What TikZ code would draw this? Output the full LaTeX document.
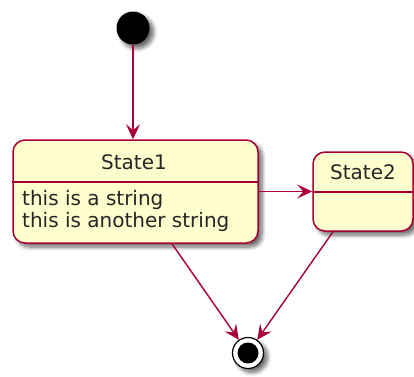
\documentclass[tikz,border=0pt]{standalone}
\usepackage{fontspec}
\setmainfont{DejaVu Sans}
\usetikzlibrary{arrows.meta,shadows.blur}
\definecolor{pborder}{HTML}{A80036}
\definecolor{pfill}{HTML}{FEFECE}
\begin{document}
\begin{tikzpicture}[x=1pt,y=-1pt,
  shd/.style={blur shadow={shadow xshift=4pt,shadow yshift=-4pt,shadow blur steps=8,shadow blur radius=4pt,shadow opacity=60}},
  statebox/.style={draw=pborder, fill=pfill, line width=1.5pt, rounded corners=12pt, inner sep=0pt, shd},
  sepline/.style={draw=pborder, line width=1.5pt},
  conn/.style={draw=pborder, line width=1.4pt, -{Stealth[length=15pt,width=14pt,inset=6pt]}},
  txt/.style={font=\fontsize{20}{22}\selectfont, text=black!85, inner sep=0pt}]
\useasboundingbox (0,0) rectangle (414,376);
% states
\node[statebox, minimum width=245pt, minimum height=103pt] (s1) at (135.5,191.5) {};
\node[statebox, minimum width=100pt, minimum height=79pt] (s2) at (363,191.5) {};
\draw[sepline] (s1.west |- 0,182) -- (s1.east |- 0,182);
\draw[sepline] (s2.west |- 0,192) -- (s2.east |- 0,192);
\node[txt] (t1) at (134,162) {State1};
\node[txt, align=left, anchor=north west] (d1) at (22,190) {this is a string\\this is another string};
\node[txt] (t2) at (363,172) {State2};
% start / end
\node[circle, fill=black, minimum size=33pt, inner sep=0pt, shd] (start) at (133,28) {};
\node[circle, draw=black, line width=1.2pt, fill=white, minimum size=31pt, inner sep=0pt, shd] (end) at (248,353) {};
\node[circle, fill=black, minimum size=21pt, inner sep=0pt] (endin) at (end) {};
% connectors
\draw[conn] (start.south) -- (start.south |- s1.north);
\draw[conn] (s1.east) -- (s2.west);
\draw[conn] ([xshift=36.5pt]s1.south) -- (end);
\draw[conn] ([xshift=-30pt]s2.south) -- (end);
\end{tikzpicture}
\end{document}
